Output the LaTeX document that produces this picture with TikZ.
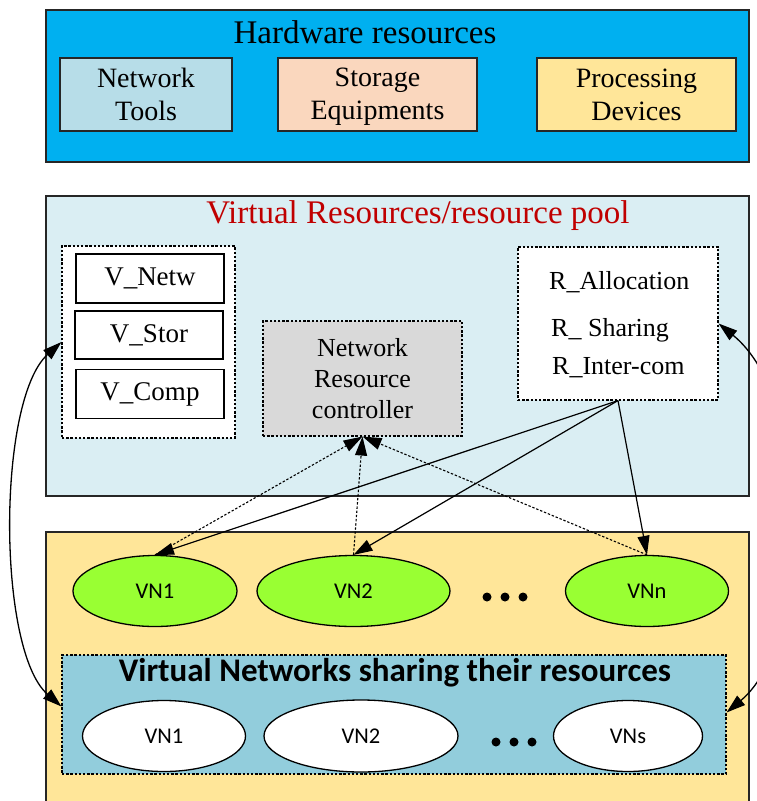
\documentclass[tikz,border=0pt]{standalone}
\usepackage{fontspec}
\setmainfont{Liberation Serif}
\newfontfamily\calibri{Carlito}
\usetikzlibrary{arrows.meta,shapes.geometric}
\definecolor{hwblue}{HTML}{00B0F0}
\definecolor{nettools}{HTML}{B7DDE8}
\definecolor{storage}{HTML}{FAD7BE}
\definecolor{procdev}{HTML}{FFE699}
\definecolor{midbg}{HTML}{DAEEF3}
\definecolor{nrcgray}{HTML}{D9D9D9}
\definecolor{botbg}{HTML}{FFE699}
\definecolor{vngreen}{HTML}{99FF33}
\definecolor{sharebox}{HTML}{92CDDC}
\definecolor{titlered}{HTML}{C00000}
\newcommand{\hwtop}{\rule{0pt}{22pt}}
\newcommand{\hwbot}{\rule[-4pt]{0pt}{4pt}}
\begin{document}
\begin{tikzpicture}[x=1pt,y=-1pt,
  bigbox/.style={draw=black!85,line width=1.4pt,inner sep=0pt,rectangle},
  hwitem/.style={draw=black!85,line width=1.3pt,inner sep=0pt,rectangle,align=center,font=\fontsize{28}{33}\selectfont},
  vitem/.style={draw=black,line width=1.3pt,fill=white,inner sep=0pt,rectangle,minimum width=148pt,font=\fontsize{27}{32}\selectfont},
  dotbox/.style={draw=black,line width=1.1pt,dash pattern=on 2.4pt off 1.8pt,inner sep=0pt,rectangle},
  vnell/.style={draw=black,line width=1.3pt,ellipse,inner sep=0pt,font=\calibri\fontsize{22.5}{26}\selectfont},
  rtext/.style={anchor=west,inner sep=0pt,font=\fontsize{26}{30}\selectfont},
  solidarr/.style={draw=black,line width=1.2pt,-{Triangle[length=19pt,width=12pt]}},
  dotarr/.style={draw=black,line width=1.1pt,dash pattern=on 2.4pt off 1.8pt,-{Triangle[length=19pt,width=12pt]}},
  curvarr/.style={draw=black,line width=1.3pt,{Triangle[length=19pt,width=12pt]}-{Triangle[length=19pt,width=12pt]}}
]
\useasboundingbox (0,0) rectangle (757,801);
\fill[white] (0,0) rectangle (757,801);

% Hardware resources
\node[bigbox,fill=hwblue,minimum width=703pt,minimum height=152pt] (hw) at (397.5,86) {};
\node[inner sep=0pt,font=\fontsize{33}{38}\selectfont] (hwtitle) at (365,32) {Hardware resources};
\node[hwitem,fill=nettools,minimum width=172pt,minimum height=73pt] (nt) at (146,94.5) {\hwtop Network\\Tools\hwbot};
\node[hwitem,fill=storage,minimum width=199pt,minimum height=73pt] (se) at (377.5,94.5) {\hwtop Storage\\Equipments\hwbot};
\node[hwitem,fill=procdev,minimum width=199pt,minimum height=73pt] (pd) at (636.5,94.5) {\hwtop Processing\\Devices\hwbot};

% Virtual resources
\node[bigbox,fill=midbg,minimum width=703pt,minimum height=300pt] (vr) at (397.5,346) {};
\node[inner sep=0pt,text=titlered,font=\fontsize{33}{38}\selectfont] (vrtitle) at (418,216) {Virtual Resources/resource pool};
\node[dotbox,fill=white,minimum width=173pt,minimum height=192pt] (lbox) at (148.5,342) {};
\node[vitem,minimum height=49pt] (vnetw) at (150,278.5) {V\_Netw};
\node[vitem,minimum height=48pt] (vstor) at (149,335) {V\_Stor};
\node[vitem,minimum height=49pt] (vcomp) at (150,394) {V\_Comp};
\node[dotbox,fill=nrcgray,minimum width=199pt,minimum height=115pt,align=center,font=\fontsize{26}{31}\selectfont] (nrc) at (362.5,378.5) {Network\\Resource\\controller};
\node[dotbox,fill=white,minimum width=200pt,minimum height=153pt] (rbox) at (618,323.5) {};
\node[rtext] (ralloc) at (549,282) {R\_Allocation};
\node[rtext] (rshare) at (551,330) {R\_ Sharing};
\node[rtext] (rinter) at (552,368) {R\_Inter-com};

% Bottom area
\node[bigbox,fill=botbg,minimum width=703pt,minimum height=300pt] (vn) at (397.5,682) {};
\node[vnell,fill=vngreen,minimum width=164pt,minimum height=71pt] (g1) at (155,591) {VN1};
\node[vnell,fill=vngreen,minimum width=193pt,minimum height=71pt] (g2) at (353.5,591) {VN2};
\node[vnell,fill=vngreen,minimum width=163pt,minimum height=71pt] (gn) at (647,591) {VNn};
\fill (487,597) circle (4.5pt) (505,597) circle (4.5pt) (523,597) circle (4.5pt);

\node[dotbox,fill=sharebox,minimum width=664pt,minimum height=119pt] (sbox) at (394,714.5) {};
\node[inner sep=0pt,font=\calibri\bfseries\fontsize{33}{38}\selectfont] (stitle) at (395,673) {Virtual Networks sharing their resources};
\node[vnell,fill=white,minimum width=163pt,minimum height=71pt] (w1) at (164,736) {VN1};
\node[vnell,fill=white,minimum width=194pt,minimum height=72pt] (w2) at (361,736) {VN2};
\node[vnell,fill=white,minimum width=149pt,minimum height=71pt] (ws) at (628,736) {VNs};
\fill (496,742) circle (4.5pt) (514,742) circle (4.5pt) (532,742) circle (4.5pt);

% Connectors
\draw[dotarr] (g1.north) -- (nrc.south);
\draw[dotarr] (g2.north) -- (nrc.south);
\draw[dotarr] (gn.north) -- (nrc.south);
\draw[solidarr] (rbox.south) -- (g1.north);
\draw[solidarr] (rbox.south) -- (g2.north);
\draw[solidarr] (rbox.south) -- (gn.north);
\draw[curvarr] (lbox.west) .. controls (-3,400) and (-3,650) .. ([yshift=8pt]sbox.west);
\draw[curvarr] (rbox.east) .. controls (813,400) and (813,640) .. ([yshift=2pt]sbox.east);
\end{tikzpicture}
\end{document}
